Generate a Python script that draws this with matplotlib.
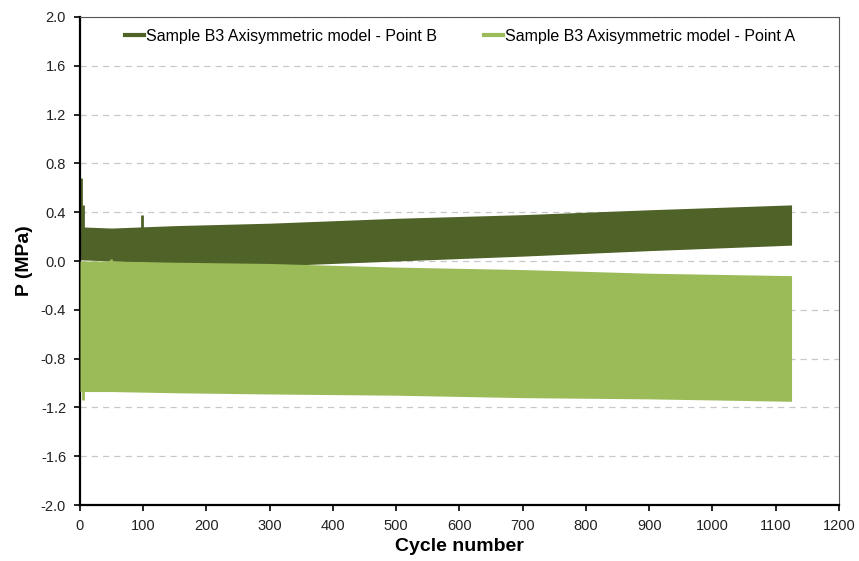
import matplotlib
matplotlib.use("Agg")
import matplotlib.pyplot as plt
from matplotlib.lines import Line2D

# =============================================================================
# Data (envelopes)
# =============================================================================

CYCLES = [0, 50, 150, 300, 500, 700, 900, 1125]

# Point B (dark green): upper / lower envelope of the oscillation
B_UPPER = [0.28, 0.27, 0.29, 0.31, 0.35, 0.38, 0.42, 0.46]
B_LOWER = [0.01, 0.00, -0.02, -0.04, 0.00, 0.04, 0.085, 0.13]

# Point A (light green): upper / lower envelope of the oscillation
A_UPPER = [0.00, 0.00, -0.01, -0.02, -0.05, -0.07, -0.10, -0.12]
A_LOWER = [-1.07, -1.07, -1.08, -1.09, -1.10, -1.12, -1.13, -1.15]

# isolated spikes
SPIKE_B_X = [1, 5, 98]
SPIKE_B_TOP = [0.68, 0.46, 0.38]
SPIKE_A_X = [49]
SPIKE_A_TOP = [0.02]
DIP_A_X = [5]
DIP_A_BOTTOM = [-1.14]

LABEL_B = "Sample B3 Axisymmetric model - Point B"
LABEL_A = "Sample B3 Axisymmetric model - Point A"

COLOR_B = "#4f6228"
COLOR_A = "#9bbb59"

X_TICKS = list(range(0, 1201, 100))
Y_TICKS = [-2.0, -1.6, -1.2, -0.8, -0.4, 0.0, 0.4, 0.8, 1.2, 1.6, 2.0]

# =============================================================================
# Plot
# =============================================================================

plt.rcParams['font.family'] = ['Liberation Sans', 'DejaVu Sans']

fig = plt.figure(figsize=(8.59, 5.61), dpi=100)
ax = fig.add_axes([0.0931, 0.0998, 0.8836, 0.8699])

ax.vlines(SPIKE_B_X, 0.2, SPIKE_B_TOP, color=COLOR_B, linewidth=2, zorder=2)
ax.fill_between(CYCLES, B_LOWER, B_UPPER, color=COLOR_B, linewidth=0, zorder=2)
ax.fill_between(CYCLES, A_LOWER, A_UPPER, color=COLOR_A, linewidth=0, zorder=3)
ax.vlines(SPIKE_A_X, -0.1, SPIKE_A_TOP, color=COLOR_A, linewidth=2, zorder=3)
ax.vlines(DIP_A_X, DIP_A_BOTTOM, -1.0, color=COLOR_A, linewidth=2, zorder=3)

ax.set_xlim(0, 1200)
ax.set_ylim(-2.0, 2.0)
ax.set_xticks(X_TICKS)
ax.set_yticks(Y_TICKS)
ax.set_yticklabels([f"{v:.1f}" for v in Y_TICKS])
ax.tick_params(axis='both', labelsize=10.5, direction='out', length=4, width=1.2,
               color='black', labelcolor='#222222')
ax.tick_params(axis='y', pad=6)
ax.tick_params(axis='x', pad=6)

ax.set_xlabel("Cycle number", fontsize=14, fontweight='bold', labelpad=4)
ax.set_ylabel("P (MPa)", fontsize=14, fontweight='bold', labelpad=6)

ax.grid(True, axis='y', color='#c8c8c8', linestyle=(0, (5, 4)), linewidth=0.9)
ax.set_axisbelow(True)

for side in ['left', 'bottom']:
    ax.spines[side].set_linewidth(1.6)
    ax.spines[side].set_color('black')
for side in ['top', 'right']:
    ax.spines[side].set_linewidth(0.8)
    ax.spines[side].set_color('#555555')

handles = [
    Line2D([], [], color=COLOR_B, linewidth=3),
    Line2D([], [], color=COLOR_A, linewidth=3),
]
ax.legend(handles, [LABEL_B, LABEL_A], loc='upper left', ncol=2,
          frameon=False, fontsize=11.5, handlelength=1.2, handletextpad=0.15,
          columnspacing=2.9, bbox_to_anchor=(0.04, 1.005), borderaxespad=0.5)

fig.savefig("out.png", dpi=100)
